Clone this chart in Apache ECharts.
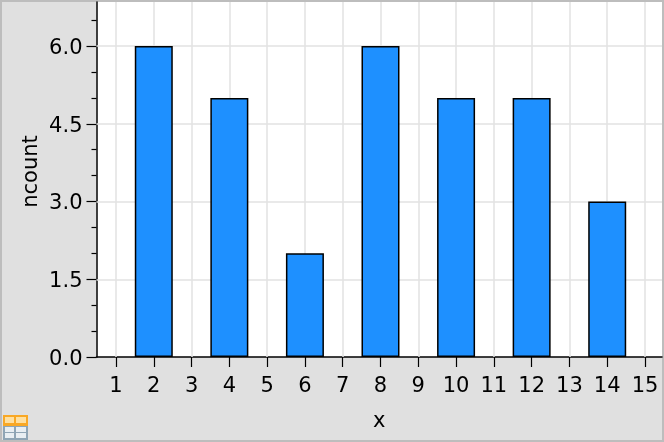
<!DOCTYPE html>
<html><head><meta charset="utf-8">
<style>html,body{margin:0;padding:0;background:#e0e0e0}#c{width:664px;height:442px}</style>
<script src="https://cdn.jsdelivr.net/npm/echarts@6/dist/echarts.min.js"></script></head>
<body><div id="c"></div>
<script>
const xValues=[2,4,6,8,10,12,14];
const ncount=[6,5,2,6,5,5,3];
const xTicks=[1,2,3,4,5,6,7,8,9,10,11,12,13,14,15];
const yTicks=[0,1.5,3,4.5,6];
const yMinorTicks=[0.5,1,2,2.5,3.5,4,5,5.5,6.5];
const font='"DejaVu Sans"';
const chart=echarts.init(document.getElementById('c'),null,{renderer:'canvas'});
const cell=(x,y,w,h,fill)=>({type:'rect',shape:{x,y,width:w,height:h},style:{fill},silent:true});
chart.setOption({
  animation:false,
  backgroundColor:'#e0e0e0',
  grid:{left:96.5,right:2,top:2,bottom:85,backgroundColor:'#ffffff',show:true,borderWidth:0},
  xAxis:{type:'value',min:0.484,max:15.45,name:'x',nameLocation:'middle',nameGap:54,
    nameTextStyle:{fontFamily:font,fontSize:21,color:'#000'},
    axisLine:{show:true,onZero:false,lineStyle:{color:'#000',width:1.5}},
    axisTick:{show:true,length:10,customValues:xTicks,lineStyle:{color:'#000',width:1.2}},
    axisLabel:{customValues:xTicks,fontFamily:font,fontSize:21,color:'#000',margin:19},
    splitLine:{show:false}},
  yAxis:[{type:'value',min:0,max:6.85,name:'ncount',nameLocation:'middle',nameGap:54,nameMoveOverlap:false,
    nameTextStyle:{fontFamily:font,fontSize:21,color:'#000',padding:[0,0,0,16]},
    axisLine:{show:true,onZero:false,lineStyle:{color:'#000',width:1.5}},
    axisTick:{show:true,length:10,customValues:yTicks,lineStyle:{color:'#000',width:1.2}},
    axisLabel:{customValues:yTicks,fontFamily:font,fontSize:21,color:'#000',margin:14,verticalAlign:'top',padding:[-8,0,0,0],formatter:v=>v.toFixed(1)},
    splitLine:{show:false}},
   {type:'value',min:0,max:6.85,position:'left',
    axisLine:{show:false},
    axisTick:{show:true,length:5,customValues:yMinorTicks,lineStyle:{color:'#000',width:1.2}},
    axisLabel:{show:false},splitLine:{show:false}}],
  series:[
   {type:'line',silent:true,symbol:'none',z:1,data:[],
    markLine:{silent:true,symbol:'none',z:1,label:{show:false},lineStyle:{color:'#e2e2e2',width:1.5,type:'solid'},
      data:[...xTicks.map(v=>({xAxis:v})),...yTicks.slice(1).map(v=>({yAxis:v}))]}},
   {type:'bar',barWidth:38,z:3,data:xValues.map((x,i)=>[x,ncount[i]]),
    itemStyle:{color:'#1e90ff',borderColor:'#000',borderWidth:1.5}}
  ],
  graphic:[
   cell(0,0,664,2,'#bdbdbd'),cell(0,440,664,2,'#bdbdbd'),cell(0,0,2,442,'#bdbdbd'),cell(662,0,2,442,'#bdbdbd'),
   cell(3,415,25,11,'#f9a825'),cell(5,417,9,6,'#ffe0a0'),cell(16,417,10,6,'#ffe0a0'),
   cell(3,426,25,14,'#8fa5b5'),cell(5,427,9,5,'#e8eef2'),cell(16,427,10,5,'#e8eef2'),cell(5,433,9,5,'#e8eef2'),cell(16,433,10,5,'#e8eef2')
  ]
});
</script></body></html>
